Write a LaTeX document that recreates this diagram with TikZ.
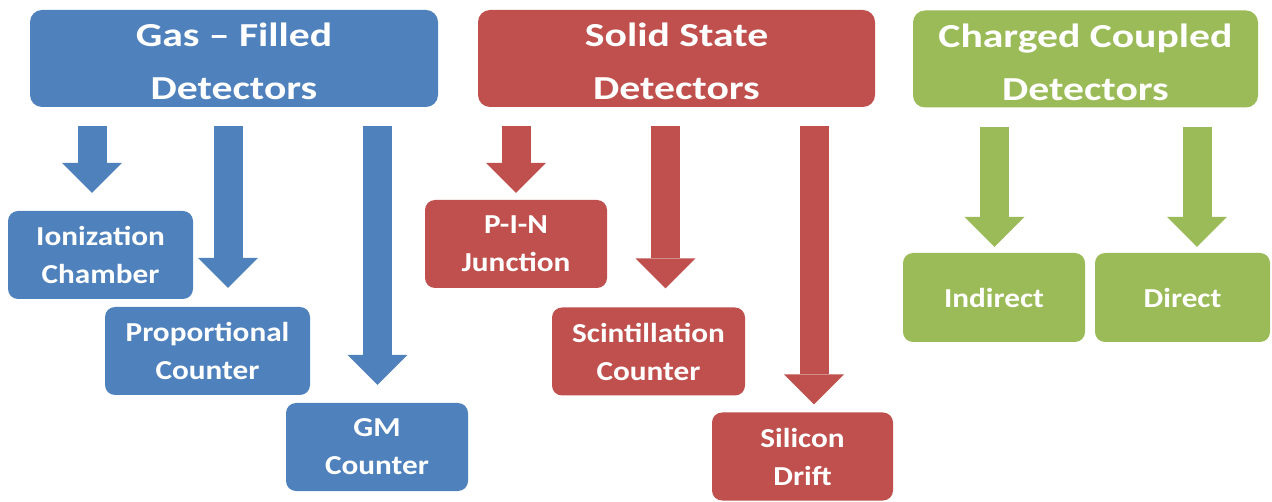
\documentclass[tikz,border=0pt]{standalone}
\usepackage{fontspec}
\newfontfamily\headfont{Carlito}[FakeStretch=1.24]
\newfontfamily\leaffont{Carlito}[FakeStretch=1.14]
\usetikzlibrary{arrows.meta,positioning}
\definecolor{gasblue}{HTML}{4F81BD}
\definecolor{solidred}{HTML}{C0504D}
\definecolor{ccdgreen}{HTML}{9BBB59}
\newcommand{\headstrut}{\rule{0pt}{30pt}}

\begin{document}
\begin{tikzpicture}[x=1pt,y=-1pt,
    headbox/.style={rounded corners=12pt,text=white,align=center,inner sep=0pt,
                  minimum height=97pt,font=\headfont\bfseries\fontsize{33.6}{53}\selectfont},
    leafbox/.style={rounded corners=10pt,text=white,align=center,inner sep=0pt,
                  minimum height=88pt,font=\leaffont\bfseries\fontsize{27.4}{38}\selectfont},
    blockarr/.style={line width=29pt,shorten <=19pt,
                  -{Triangle[length=30pt,width=60pt,line width=0pt]}}]
  \fill[white] (0,0) rectangle (1272,502);
  \useasboundingbox (0,0) rectangle (1272,502);
  % top row
  \node[headbox,fill=gasblue,minimum width=408pt]  (gas)   at (234,58.5)  {\headstrut Gas – Filled\\Detectors};
  \node[headbox,fill=solidred,minimum width=397pt] (solid) at (676.5,58.5) {\headstrut Solid State\\Detectors};
  \node[headbox,fill=ccdgreen,minimum width=345pt] (ccd)   at (1085.5,59) {\headstrut Charged Coupled\\Detectors};
  % leaves
  \node[leafbox,fill=gasblue,minimum width=185pt]  (ion)   at (100.5,255)  {Ionization\\Chamber};
  \node[leafbox,fill=gasblue,minimum width=205pt]  (prop)  at (207.5,351)  {Proportional\\Counter};
  \node[leafbox,fill=gasblue,minimum width=182pt]  (gm)    at (377,447)    {GM\\Counter};
  \node[leafbox,fill=solidred,minimum width=182pt] (pin)   at (516,244)    {P-I-N\\Junction};
  \node[leafbox,fill=solidred,minimum width=193pt] (scint) at (648.5,351.5) {Scintillation\\Counter};
  \node[leafbox,fill=solidred,minimum width=181pt] (sil)   at (802.5,456.5) {Silicon\\Drift};
  \node[leafbox,fill=ccdgreen,minimum width=182pt,minimum height=89pt] (ind) at (994,297.5)  {Indirect};
  \node[leafbox,fill=ccdgreen,minimum width=175pt,minimum height=89pt] (dir) at (1182.5,297.5) {Direct};
  % block arrows
  \foreach \x/\from/\to/\gap/\col in {92/gas/ion/18/gasblue,228/gas/prop/19/gasblue,377.5/gas/gm/18/gasblue,
      516/solid/pin/7/solidred,665.5/solid/scint/19/solidred,814/solid/sil/8/solidred,
      994.5/ccd/ind/6/ccdgreen,1197/ccd/dir/6/ccdgreen}
    \draw[blockarr,\col,shorten >=\gap pt] (\x,0 |- \from.south) -- (\x,0 |- \to.north);
\end{tikzpicture}
\end{document}
